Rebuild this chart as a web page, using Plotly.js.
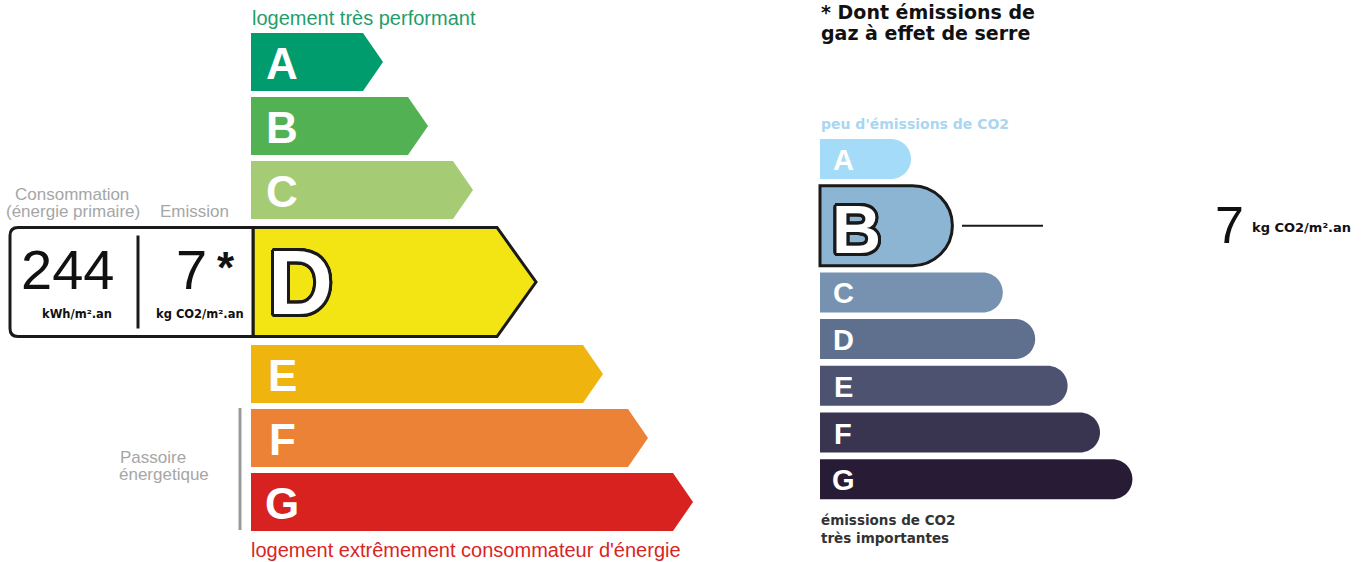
<!DOCTYPE html>
<html>
<head>
<meta charset="utf-8">
<script src="https://cdn.plot.ly/plotly-3.0.1.min.js"></script>
<style>html,body{margin:0;padding:0;background:#fff;}#chart{width:1365px;height:562px;}</style>
</head>
<body>
<div id="chart"></div>
<script>
// ---------- DATA ----------
const energyClasses = ['A', 'B', 'C', 'D', 'E', 'F', 'G'];
const ghgClasses = ['A', 'B', 'C', 'D', 'E', 'F', 'G'];
const energyRating = 'D';
const ghgRating = 'B';
const consumptionValue = 244;
const consumptionUnit = 'kWh/m².an';
const emissionValue = 7;
const emissionUnit = 'kg CO2/m².an';
const energyTopLabel = 'logement très performant';
const energyBottomLabel = "logement extrêmement consommateur d'énergie";
const consumptionLabel = ['Consommation', '(énergie primaire)'];
const emissionLabel = 'Emission';
const sieveLabel = ['Passoire', 'énergetique'];
const ghgTitle = ['* Dont émissions de', 'gaz à effet de serre'];
const ghgTopLabel = "peu d'émissions de CO2";
const ghgBottomLabel = ['émissions de CO2', 'très importantes'];

// ---------- STYLE ----------
const energyColors = ['#009c6d', '#52b153', '#a5cc74', '#f2e513', '#f0b40f', '#eb8235', '#d7221f'];
const ghgColors = ['#a4dbf8', '#8cb4d3', '#7792b1', '#5f708f', '#4d5271', '#393551', '#281b35'];
const SANS = 'Liberation Sans, Arial, sans-serif';
const DEJA = 'DejaVu Sans, Verdana, sans-serif';

const shapes = [];
const ann = [];

function text(t, x, y, size, color, opts) {
  opts = opts || {};
  const font = {family: opts.family || SANS, size: size, color: color, weight: opts.weight || 'normal'};
  if (opts.shadow) font.shadow = opts.shadow;
  ann.push(Object.assign({
    text: t, x: x, y: y, xref: 'x', yref: 'y', showarrow: false,
    xanchor: opts.xanchor || 'center', yanchor: 'middle',
    font: font
  }, opts.extra || {}));
}
function outlined(t, x, y, size, r) {
  const n = 24, parts = [];
  for (let k = 0; k < n; k++) {
    const a = 2 * Math.PI * k / n;
    parts.push(`${(r * Math.cos(a)).toFixed(2)}px ${(r * Math.sin(a)).toFixed(2)}px 0 #1a1a1a`);
  }
  text(t, x, y, size, '#ffffff', {weight: 'bold', shadow: parts.join(', ')});
}

// ---------- ENERGY SCALE ----------
const eSel = energyClasses.indexOf(energyRating);
let ey = 33;
energyClasses.forEach((c, i) => {
  const sel = i === eSel;
  const h = sel ? 109 : 58;
  const top = ey, bot = ey + h, mid = (top + bot) / 2;
  const tip = 383 + i * 45 + (i > eSel ? 40 : 0) + (sel ? 18 : 0);
  const depth = sel ? 39 : 20;
  const x0 = sel ? 253 : 251;
  shapes.push({
    type: 'path', xref: 'x', yref: 'y',
    path: `M${x0},${top} L${tip - depth},${top} L${tip},${mid} L${tip - depth},${bot} L${x0},${bot} Z`,
    fillcolor: energyColors[i],
    line: sel ? {color: '#1a1a1a', width: 3} : {width: 0}
  });
  if (sel) {
    const bx0 = 10, bx1 = 253, r = 8;
    shapes.push({
      type: 'path', xref: 'x', yref: 'y',
      path: `M${bx0 + r},${top} L${bx1},${top} L${bx1},${bot} L${bx0 + r},${bot} Q${bx0},${bot} ${bx0},${bot - r} L${bx0},${top + r} Q${bx0},${top} ${bx0 + r},${top} Z`,
      fillcolor: '#ffffff', line: {color: '#1a1a1a', width: 3}
    });
    shapes.push({type: 'line', xref: 'x', yref: 'y', x0: 138, x1: 138, y0: top + 8, y1: bot - 8, line: {color: '#1a1a1a', width: 3}});
    outlined(c, 300, mid + 1, 90, 3);
    text(String(consumptionValue), 67, mid - 13, 56, '#111');
    text(consumptionUnit, 77, mid + 32, 11.5, '#111', {family: DEJA, weight: 'bold'});
    text(String(emissionValue), 191, mid - 13, 56, '#111');
    text('*', 226, mid - 15, 44, '#111', {weight: 'bold'});
    text(emissionUnit, 200, mid + 32, 11.5, '#111', {family: DEJA, weight: 'bold'});
  } else {
    text(c, 282, mid + 1, 44, '#ffffff', {weight: 'bold'});
  }
  ey = bot + ((sel || energyClasses[i + 1] === energyRating) ? 8.5 : 6);
});

text(energyTopLabel, 250, 18, 20, '#1f9e6c', {xanchor: 'left'});
text(energyBottomLabel, 249, 550, 20, '#d9251f', {xanchor: 'left'});
text(consumptionLabel[0], 72, 194, 17, '#a6a6a6');
text(consumptionLabel[1], 73, 211, 17, '#a6a6a6');
text(emissionLabel, 194, 211.5, 17, '#a6a6a6');
text(sieveLabel[0], 153, 457, 17, '#a6a6a6');
text(sieveLabel[1], 164, 474, 17, '#a6a6a6');
shapes.push({type: 'line', xref: 'x', yref: 'y', x0: 240, x1: 240, y0: 408, y1: 530, line: {color: '#9a9a9a', width: 3}});

// ---------- GHG SCALE ----------
const gSel = ghgClasses.indexOf(ghgRating);
const K = 0.5523;
let gy = 139;
ghgClasses.forEach((c, i) => {
  const sel = i === gSel;
  const h = sel ? 80 : 40;
  const top = gy, bot = gy + h, mid = (top + bot) / 2, rr = h / 2;
  const right = 911 + i * 32.4 + (i > gSel ? 27 : 0) + (sel ? 9 : 0);
  const cx = right - rr;
  shapes.push({
    type: 'path', xref: 'x', yref: 'y',
    path: `M820,${top} L${cx},${top} C${cx + K * rr},${top} ${right},${mid - K * rr} ${right},${mid} C${right},${mid + K * rr} ${cx + K * rr},${bot} ${cx},${bot} L820,${bot} Z`,
    fillcolor: ghgColors[i],
    line: sel ? {color: '#1a1a1a', width: 3} : {width: 0}
  });
  if (sel) {
    outlined(c, 856, mid + 3, 68, 3);
    shapes.push({type: 'line', xref: 'x', yref: 'y', x0: 962, x1: 1043, y0: mid, y1: mid, line: {color: '#1a1a1a', width: 2}});
    text(String(emissionValue), 1229, mid - 1, 52, '#111');
    text(emissionUnit, 1250, mid + 2, 13, '#111', {family: DEJA, weight: 'bold', xanchor: 'left'});
  } else {
    text(c, 843, mid + 1, 29, '#ffffff', {weight: 'bold'});
  }
  gy = bot + 6.7;
});

text(ghgTitle[0], 819, 11.5, 19, '#111', {family: DEJA, weight: 'bold', xanchor: 'left'});
text(ghgTitle[1], 819, 32.5, 19, '#111', {family: DEJA, weight: 'bold', xanchor: 'left'});
text(ghgTopLabel, 819, 123.5, 14, '#a9d6f0', {family: DEJA, weight: 'bold', xanchor: 'left'});
text(ghgBottomLabel[0], 819, 519.5, 13.5, '#333', {family: DEJA, weight: 'bold', xanchor: 'left'});
text(ghgBottomLabel[1], 819, 537.5, 13.5, '#333', {family: DEJA, weight: 'bold', xanchor: 'left'});

const layout = {
  width: 1365, height: 562,
  margin: {l: 0, r: 0, t: 0, b: 0, pad: 0},
  paper_bgcolor: '#ffffff', plot_bgcolor: '#ffffff',
  xaxis: {range: [0, 1365], visible: false, fixedrange: true},
  yaxis: {range: [562, 0], visible: false, fixedrange: true},
  showlegend: false,
  shapes: shapes,
  annotations: ann
};
Plotly.newPlot('chart', [{x: [], y: [], type: 'scatter', hoverinfo: 'skip'}], layout, {staticPlot: true, displayModeBar: false});
</script>
</body>
</html>
